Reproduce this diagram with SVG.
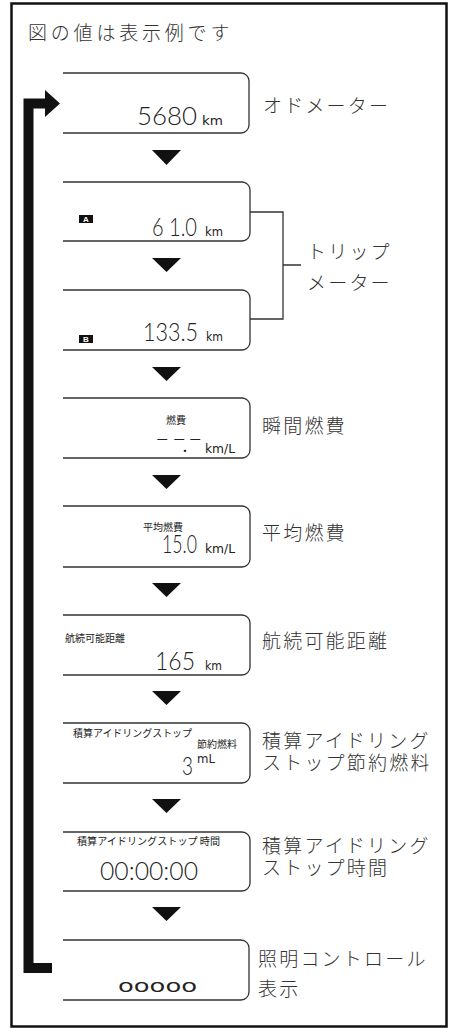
<svg xmlns="http://www.w3.org/2000/svg" width="450" height="1028" viewBox="0 0 450 1028">
<style>
.frame{fill:none;stroke:#111;stroke-width:2.5}
.box{fill:#fff;stroke:#333;stroke-width:1.3}
.lbl{font-family:"Noto Sans CJK JP","Noto Sans",sans-serif;font-size:19px;fill:#333;letter-spacing:2.2px;font-weight:300}
.title{font-family:"Noto Sans CJK JP","Noto Sans",sans-serif;font-size:19px;fill:#333;letter-spacing:3.8px;font-weight:300}
.seg{font-family:Lato,Roboto,"DejaVu Sans Condensed",sans-serif;font-size:25px;fill:#222;font-weight:300}
.unit{font-family:"DejaVu Sans Condensed","DejaVu Sans",sans-serif;font-size:13px;fill:#222}
.sm{font-family:"Noto Sans CJK JP",sans-serif;font-size:10px;fill:#222}
.dots{font-family:"DejaVu Sans Condensed","DejaVu Sans",sans-serif;font-size:17px;fill:#222}
.badge{fill:#111}
.btxt{font-family:"Liberation Sans",Arial,sans-serif;font-size:8px;font-weight:bold;fill:#fff;text-anchor:middle}
.tri{fill:#111}
.link{fill:none;stroke:#333;stroke-width:1.3}
.loop{fill:none;stroke:#111;stroke-width:10;stroke-linejoin:miter}
</style>
<rect class="frame" x="11.5" y="3.5" width="435" height="1023"/>
<text class="title" x="28" y="40">図の値は表示例です</text>

<g id="connectors">
  <path class="loop" d="M52,968 H28.5 V103.5 H47"/>
  <polygon class="tri" points="45,90 60,103.5 45,117"/>
  <polygon class="tri" points="152,150 181,150 166.5,165"/>
  <polygon class="tri" points="152,258 181,258 166.5,272"/>
  <polygon class="tri" points="152,367 181,367 166.5,381"/>
  <polygon class="tri" points="152,475 181,475 166.5,489"/>
  <polygon class="tri" points="152,583 181,583 166.5,597"/>
  <polygon class="tri" points="152,691 181,691 166.5,705"/>
  <polygon class="tri" points="152,799 181,799 166.5,813"/>
  <polygon class="tri" points="152,907 181,907 166.5,921"/>
  <path class="link" d="M250,212 H283 V319 H250 M283,265 H301"/>
</g>

<g id="odo">
  <path class="box" d="M63,73 H241 A8,8 0 0 1 249,81 V125 A8,8 0 0 1 241,133 H63"/>
  <text class="seg" x="137" y="125" textLength="60" lengthAdjust="spacingAndGlyphs">5680</text>
  <text class="unit" x="202" y="125" textLength="21" lengthAdjust="spacingAndGlyphs">km</text>
  <text class="lbl" x="263" y="113">オドメーター</text>
</g>

<g id="tripA">
  <path class="box" d="M63,182 H242 A8,8 0 0 1 250,190 V233 A8,8 0 0 1 242,241 H63"/>
  <rect class="badge" x="79" y="215" width="14" height="8"/>
  <text class="btxt" x="86" y="222">A</text>
  <text class="seg" x="152" y="236" textLength="45" lengthAdjust="spacingAndGlyphs">6 1.0</text>
  <text class="unit" x="205" y="236" textLength="18" lengthAdjust="spacingAndGlyphs">km</text>
</g>

<g id="tripB">
  <path class="box" d="M63,290 H242 A8,8 0 0 1 250,298 V342 A8,8 0 0 1 242,350 H63"/>
  <rect class="badge" x="79" y="335" width="14" height="8"/>
  <text class="btxt" x="86" y="342">B</text>
  <text class="seg" x="143" y="341" textLength="55" lengthAdjust="spacingAndGlyphs">133.5</text>
  <text class="unit" x="206" y="341" textLength="17" lengthAdjust="spacingAndGlyphs">km</text>
</g>

<g id="trip-label">
  <text class="lbl" x="307" y="259">トリップ</text>
  <text class="lbl" x="307" y="290">メーター</text>
</g>

<g id="instant">
  <path class="box" d="M63,398 H242 A8,8 0 0 1 250,406 V450 A8,8 0 0 1 242,458 H63"/>
  <text class="sm" x="166" y="424">燃費</text>
  <text class="seg" y="447" font-size="20"><tspan x="155">–</tspan><tspan x="172">–</tspan><tspan x="182" dy="5">.</tspan><tspan x="188" dy="-5">–</tspan></text>
  <text class="unit" x="205" y="453" textLength="30" lengthAdjust="spacingAndGlyphs">km/L</text>
  <text class="lbl" x="262" y="433">瞬間燃費</text>
</g>

<g id="average">
  <path class="box" d="M63,506 H242 A8,8 0 0 1 250,514 V559 A8,8 0 0 1 242,567 H63"/>
  <text class="sm" x="143" y="531">平均燃費</text>
  <text class="seg" x="162" y="553" textLength="35" lengthAdjust="spacingAndGlyphs">15.0</text>
  <text class="unit" x="205" y="553" textLength="30" lengthAdjust="spacingAndGlyphs">km/L</text>
  <text class="lbl" x="262" y="540">平均燃費</text>
</g>

<g id="range">
  <path class="box" d="M63,615 H242 A8,8 0 0 1 250,623 V667 A8,8 0 0 1 242,675 H63"/>
  <text class="sm" x="65" y="642">航続可能距離</text>
  <text class="seg" x="155" y="670" textLength="40" lengthAdjust="spacingAndGlyphs">165</text>
  <text class="unit" x="205" y="670" textLength="17" lengthAdjust="spacingAndGlyphs">km</text>
  <text class="lbl" x="262" y="648">航続可能距離</text>
</g>

<g id="idle-fuel">
  <path class="box" d="M63,723 H242 A8,8 0 0 1 250,731 V775 A8,8 0 0 1 242,783 H63"/>
  <text class="sm" x="73" y="737" textLength="119" lengthAdjust="spacingAndGlyphs">積算アイドリングストップ</text>
  <text class="sm" x="197" y="748">節約燃料</text>
  <text class="seg" x="182" y="775" textLength="11" lengthAdjust="spacingAndGlyphs">3</text>
  <text class="unit" x="197" y="763" font-size="11">mL</text>
  <text class="lbl" x="262" y="748">積算アイドリング</text>
  <text class="lbl" x="262" y="770">ストップ節約燃料</text>
</g>

<g id="idle-time">
  <path class="box" d="M63,832 H242 A8,8 0 0 1 250,840 V883 A8,8 0 0 1 242,891 H63"/>
  <text class="sm" x="77" y="845" textLength="143" lengthAdjust="spacingAndGlyphs">積算アイドリングストップ 時間</text>
  <text class="seg" x="100" y="880" textLength="98" lengthAdjust="spacingAndGlyphs">00:00:00</text>
  <text class="lbl" x="262" y="853">積算アイドリング</text>
  <text class="lbl" x="262" y="875">ストップ時間</text>
</g>

<g id="illumination">
  <path class="box" d="M63,940 H241 A8,8 0 0 1 249,948 V992 A8,8 0 0 1 241,1000 H63"/>
  <text class="dots" x="118" y="992" textLength="79" lengthAdjust="spacingAndGlyphs">ooooo</text>
  <text class="lbl" x="258" y="966">照明コントロール</text>
  <text class="lbl" x="258" y="996">表示</text>
</g>
</svg>
